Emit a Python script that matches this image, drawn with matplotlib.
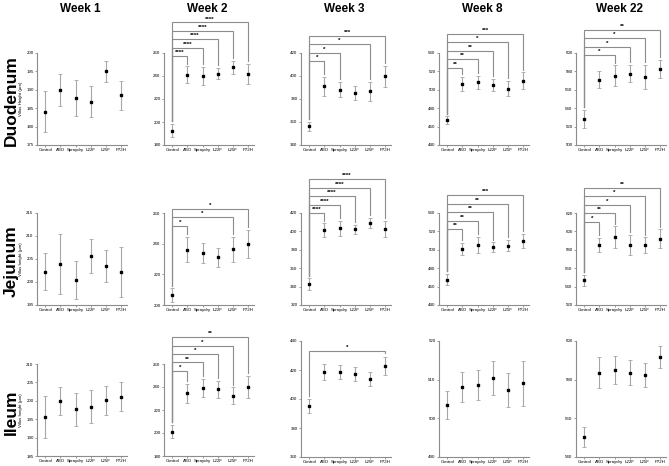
import matplotlib
matplotlib.use("Agg")
import matplotlib.pyplot as plt

plt.rcParams['font.family'] = ['Liberation Sans', 'DejaVu Sans']

groups = ["Control", "ABO", "Spraydry", "L22F", "L25F", "P72H"]
weeks = ["Week 1", "Week 2", "Week 3", "Week 8", "Week 22"]
segments = ["Duodenum", "Jejunum", "Ileum"]
ylabels = ["Villus Height (µm)", "Villus height (µm)", "Villus height (µm)"]

# means and SD per panel (row = segment, column = week)
duo_mean = [
    [184.0, 190.0, 187.8, 186.8, 195.0, 188.5],
    [192.6, 241.2, 240.0, 242.0, 247.6, 241.8],
    [356.4, 391.0, 388.0, 385.3, 386.8, 399.8],
    [467.0, 506.4, 508.2, 505.3, 501.4, 510.0],
    [528.5, 571.0, 575.5, 577.6, 574.0, 582.7],
]
duo_sd = [
    [5.6, 4.4, 4.8, 4.3, 2.9, 4.0],
    [5.6, 7.2, 8.2, 5.0, 5.6, 8.5],
    [4.0, 8.0, 6.6, 6.3, 8.4, 9.1],
    [4.2, 8.0, 7.2, 6.7, 8.3, 9.0],
    [10.0, 9.0, 11.0, 9.4, 13.4, 10.0],
]
jej_mean = [
    [202.2, 203.9, 200.4, 205.6, 203.4, 202.1],
    [206.5, 236.1, 233.7, 231.3, 236.3, 239.8],
    [342.8, 401.2, 403.3, 402.2, 409.5, 402.6],
    [467.5, 500.9, 505.2, 502.7, 504.5, 509.6],
    [546.8, 585.2, 593.9, 585.2, 584.9, 592.1],
]
jej_sd = [
    [4.0, 6.6, 4.1, 3.7, 3.5, 5.4],
    [4.3, 8.3, 6.6, 6.2, 8.2, 9.0],
    [6.1, 7.6, 8.1, 5.0, 5.4, 8.7],
    [6.1, 6.8, 8.9, 5.4, 6.0, 7.9],
    [6.1, 7.6, 11.6, 11.2, 8.5, 10.2],
]
ile_mean = [
    [195.5, 200.0, 197.7, 198.4, 200.1, 201.1],
    [201.2, 234.4, 239.4, 237.9, 232.4, 240.3],
    [395.2, 418.6, 418.6, 417.2, 413.8, 422.8],
    [503.5, 508.1, 508.6, 510.4, 507.3, 509.1],
    [550.4, 583.5, 585.0, 583.5, 582.4, 591.7],
]
ile_sd = [
    [5.7, 3.8, 4.5, 4.5, 4.0, 4.0],
    [5.9, 8.0, 7.7, 7.4, 7.3, 9.7],
    [4.8, 5.2, 4.8, 4.8, 4.5, 6.2],
    [3.6, 4.0, 3.9, 4.4, 4.3, 5.8],
    [5.2, 8.0, 7.0, 6.5, 6.0, 5.7],
]

# y tick ranges (start, stop, step)
duo_ticks = [(175, 200, 5), (180, 260, 20), (340, 420, 20), (440, 540, 20), (500, 600, 20)]
jej_ticks = [(195, 215, 5), (200, 260, 20), (320, 420, 20), (440, 540, 20), (520, 620, 20)]
ile_ticks = [(185, 210, 5), (180, 260, 20), (360, 440, 20), (490, 520, 10), (540, 600, 20)]

# significance vs Control: (group index, stars)
duo_sig = [
    [],
    [(1, "****"), (2, "****"), (3, "****"), (4, "****"), (5, "****")],
    [(1, "*"), (2, "*"), (4, "*"), (5, "***")],
    [(1, "**"), (2, "**"), (3, "**"), (4, "*"), (5, "***")],
    [(2, "*"), (3, "*"), (4, "*"), (5, "**")],
]
jej_sig = [
    [],
    [(1, "*"), (4, "*"), (5, "*")],
    [(1, "****"), (2, "****"), (3, "****"), (4, "****"), (5, "****")],
    [(1, "**"), (2, "**"), (3, "**"), (4, "**"), (5, "***")],
    [(1, "*"), (2, "**"), (3, "*"), (4, "*"), (5, "**")],
]
ile_sig = [
    [],
    [(1, "*"), (2, "**"), (3, "*"), (4, "*"), (5, "**")],
    [(5, "*")],
    [],
    [],
]

means = [duo_mean, jej_mean, ile_mean]
sds = [duo_sd, jej_sd, ile_sd]
ticks = [duo_ticks, jej_ticks, ile_ticks]
sigs = [duo_sig, jej_sig, ile_sig]

GRAY = "#8c8c8c"
fig = plt.figure(figsize=(6.69, 4.66), dpi=100)

col_x = [37, 164, 301, 439, 576]
row_top = [53, 213, 364]
W, H = 90, 92

for r in range(3):
    for c in range(5):
        top, h_px = row_top[r], H
        if r == 2 and c >= 2:
            # the last three ileum panels are drawn taller
            top, h_px = 341, 116
        ax = fig.add_axes([col_x[c] / 669, 1 - (top + h_px) / 466, W / 669, h_px / 466])
        m = means[r][c]
        s = sds[r][c]
        x = list(range(len(groups)))
        ax.errorbar(x, m, yerr=s, fmt="s", color="black", ms=1.8,
                    ecolor="#a6a6a6", elinewidth=0.8, capsize=1.3, capthick=0.6)
        t0, t1, st = ticks[r][c]
        yt = list(range(t0, t1 + 1, st))
        ax.set_ylim(t0, t1)
        ax.set_xlim(-0.55, 5.4)
        ax.set_yticks(yt)
        ax.set_yticklabels([str(v) for v in yt], fontsize=3.2)
        ax.set_xticks(x)
        ax.set_xticklabels(groups, fontsize=3.2)
        for sp in ["top", "right"]:
            ax.spines[sp].set_visible(False)
        for sp in ["left", "bottom"]:
            ax.spines[sp].set_color(GRAY)
            ax.spines[sp].set_linewidth(0.8)
        ax.tick_params(length=1.5, width=0.6, color=GRAY, pad=1)
        ax.set_facecolor("none")
        if c == 0:
            ax.set_ylabel(ylabels[r], fontsize=3.2, labelpad=2)

        # significance brackets
        rng = t1 - t0
        tops = [a + b for a, b in zip(m, s)]
        base = max(tops) + 0.05 * rng
        step = 0.092 * rng
        gap = 0.03 * rng
        for k, (gi, stars) in enumerate(sigs[r][c]):
            h = base + k * step
            ax.plot([0, 0, gi, gi], [tops[0] + gap, h, h, tops[gi] + gap],
                    color=GRAY, lw=0.8, clip_on=False, solid_joinstyle="miter")
            ax.text(gi / 2, h + 0.01 * rng, stars, ha="center", va="bottom",
                    fontsize=4.5, fontweight="bold", clip_on=False)

        if r == 0:
            fig.text((col_x[c] + 43) / 669, 1 - 9 / 466, weeks[c], ha="center",
                     va="center", fontsize=8.5, fontweight="bold")
    fig.text(11 / 669, 1 - (row_top[r] + 48) / 466, segments[r], rotation=90,
             ha="center", va="center", fontsize=12.5, fontweight="bold")

fig.savefig("out.png", dpi=100)
